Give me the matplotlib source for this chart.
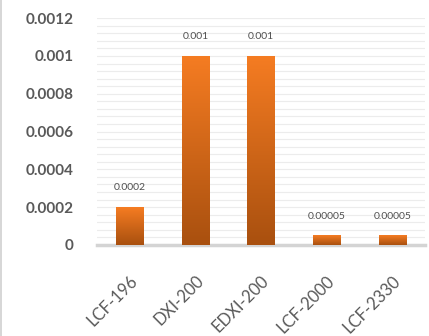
import numpy as np
import matplotlib
matplotlib.use("Agg")
import matplotlib.pyplot as plt
from matplotlib.colors import LinearSegmentedColormap
from matplotlib.lines import Line2D

# sample names and measured values
muestras = ["LCF-196", "DXI-200", "EDXI-200", "LCF-2000", "LCF-2330"]
valores = [0.0002, 0.001, 0.001, 0.00005, 0.00005]
etiquetas = ["0.0002", "0.001", "0.001", "0.00005", "0.00005"]
marcas_y = [0, 0.0002, 0.0004, 0.0006, 0.0008, 0.001, 0.0012]
textos_y = ["0", "0.0002", "0.0004", "0.0006", "0.0008", "0.001", "0.0012"]

plt.rcParams["font.family"] = ["Lato", "DejaVu Sans"]

fig = plt.figure(figsize=(4.29, 3.36), dpi=100)
ax = fig.add_axes([0.226, 0.271, 0.765, 0.675])

gris = "#595959"
degradado = LinearSegmentedColormap.from_list("naranja", ["#a9500f", "#f57c22"])
grad = np.linspace(0, 1, 256).reshape(-1, 1)

x = np.arange(len(muestras))
barras = ax.bar(x, valores, width=0.42, color="none", edgecolor="none", zorder=3)
for b in barras:
    x0, w, h = b.get_x(), b.get_width(), b.get_height()
    img = ax.imshow(grad, cmap=degradado, origin="lower", aspect="auto",
                    extent=[x0, x0 + w, 0, h], zorder=3)
    img.set_clip_path(b)

for xi, v, t in zip(x, valores, etiquetas):
    ax.annotate(t, (xi, v), xytext=(0, 14), textcoords="offset points",
                ha="center", va="center", fontsize=7.5, color="#505050")

ax.set_xlim(-0.5, len(muestras) - 0.5)
ax.set_ylim(0, 0.0012)
ax.set_yticks(marcas_y)
ax.set_yticklabels(textos_y, fontsize=11, color=gris, fontweight="bold")
ax.set_yticks(np.arange(0, 0.00121, 0.00004), minor=True)
ax.set_xticks(x)
ax.set_xticklabels(muestras, rotation=45, ha="right", rotation_mode="anchor",
                   fontsize=12, color=gris)

ax.tick_params(axis="y", length=0, pad=17, which="both")
ax.tick_params(axis="x", length=0, pad=20)
ax.grid(axis="y", which="both", color="#ececec", linewidth=0.8, zorder=0)
ax.set_axisbelow(True)
for s in ["top", "right", "left"]:
    ax.spines[s].set_visible(False)
ax.spines["bottom"].set_color("#d4d4d4")
ax.spines["bottom"].set_linewidth(2.5)

# chart area border on the left
fig.add_artist(Line2D([0.003, 0.003], [0, 1], color="#d0d0d0", linewidth=1.2,
                      transform=fig.transFigure))

fig.savefig("out.png", dpi=100)
